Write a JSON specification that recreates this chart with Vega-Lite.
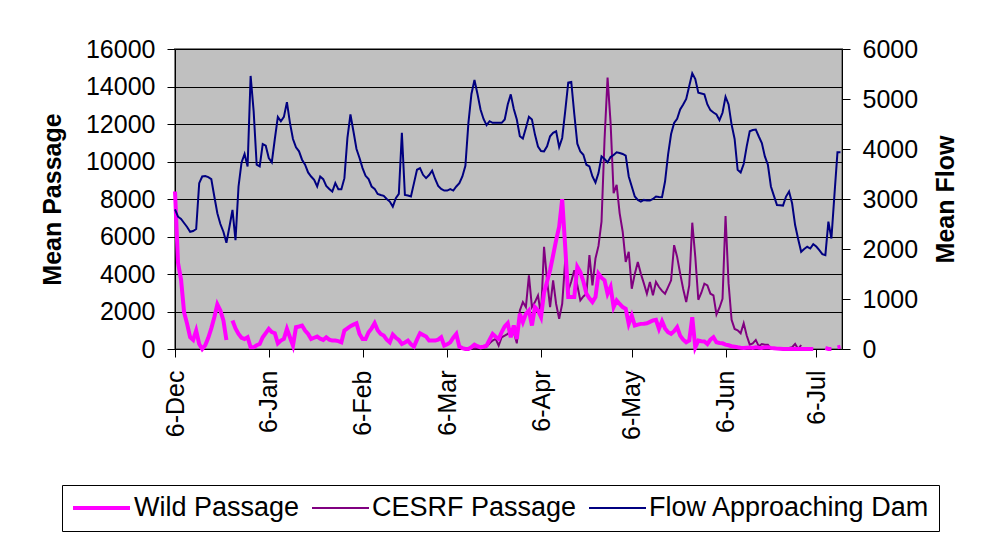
{
  "$schema": "https://vega.github.io/schema/vega-lite/v6.json",
  "width": 667,
  "height": 300,
  "autosize": {"type": "none"},
  "padding": {"left": 175, "top": 49, "right": 139, "bottom": 187},
  "background": "white",
  "config": {
    "font": "Liberation Sans",
    "view": {"fill": "#C0C0C0", "stroke": "#808080", "strokeWidth": 2},
    "axis": {
      "labelFont": "Liberation Sans", "labelFontSize": 25, "labelColor": "black",
      "titleFont": "Liberation Sans", "titleFontSize": 25, "titleFontWeight": "bold", "titleColor": "black",
      "domainColor": "black", "domainWidth": 1, "tickColor": "black", "tickSize": 8, "tickWidth": 1
    },
    "legend": {
      "orient": "none", "legendX": -113, "legendY": 436, "direction": "horizontal",
      "symbolType": "stroke", "symbolSize": 3249, "clipHeight": 28,
      "labelFont": "Liberation Sans", "labelFontSize": 27, "labelColor": "black", "labelLimit": 0,
      "labelOffset": 2, "columnPadding": 11, "padding": 9,
      "strokeColor": "black", "fillColor": "white", "cornerRadius": 0
    }
  },
  "datasets": {
    "flow": [
      {"d":"2004-12-06","v":2794},{"d":"2004-12-07","v":2646},{"d":"2004-12-08","v":2600},{"d":"2004-12-09","v":2520},{"d":"2004-12-10","v":2440},{"d":"2004-12-11","v":2345},{"d":"2004-12-12","v":2360},{"d":"2004-12-13","v":2400},{"d":"2004-12-14","v":3317},{"d":"2004-12-15","v":3450},{"d":"2004-12-16","v":3460},{"d":"2004-12-17","v":3437},{"d":"2004-12-18","v":3397},{"d":"2004-12-19","v":3050},{"d":"2004-12-20","v":2714},{"d":"2004-12-21","v":2500},{"d":"2004-12-22","v":2345},{"d":"2004-12-23","v":2124},{"d":"2004-12-24","v":2446},{"d":"2004-12-25","v":2781},{"d":"2004-12-26","v":2178},{"d":"2004-12-27","v":3250},{"d":"2004-12-28","v":3732},{"d":"2004-12-29","v":3899},{"d":"2004-12-30","v":3652},{"d":"2004-12-31","v":5461},
      {"d":"2005-01-01","v":4757},{"d":"2005-01-02","v":3685},{"d":"2005-01-03","v":3652},{"d":"2005-01-04","v":4100},{"d":"2005-01-05","v":4067},{"d":"2005-01-06","v":3819},{"d":"2005-01-07","v":3732},{"d":"2005-01-08","v":4200},{"d":"2005-01-09","v":4643},{"d":"2005-01-10","v":4556},{"d":"2005-01-11","v":4643},{"d":"2005-01-12","v":4938},{"d":"2005-01-13","v":4523},{"d":"2005-01-14","v":4200},{"d":"2005-01-15","v":4033},{"d":"2005-01-16","v":3953},{"d":"2005-01-17","v":3786},{"d":"2005-01-18","v":3685},{"d":"2005-01-19","v":3531},{"d":"2005-01-20","v":3450},{"d":"2005-01-21","v":3384},{"d":"2005-01-22","v":3250},{"d":"2005-01-23","v":3450},{"d":"2005-01-24","v":3397},{"d":"2005-01-25","v":3263},{"d":"2005-01-26","v":3200},{"d":"2005-01-27","v":3149},{"d":"2005-01-28","v":3317},{"d":"2005-01-29","v":3196},{"d":"2005-01-30","v":3196},{"d":"2005-01-31","v":3417},
      {"d":"2005-02-01","v":4221},{"d":"2005-02-02","v":4690},{"d":"2005-02-03","v":4350},{"d":"2005-02-04","v":4000},{"d":"2005-02-05","v":3819},{"d":"2005-02-06","v":3618},{"d":"2005-02-07","v":3464},{"d":"2005-02-08","v":3397},{"d":"2005-02-09","v":3250},{"d":"2005-02-10","v":3203},{"d":"2005-02-11","v":3102},{"d":"2005-02-12","v":3080},{"d":"2005-02-13","v":3062},{"d":"2005-02-14","v":3000},{"d":"2005-02-15","v":2948},{"d":"2005-02-16","v":2848},{"d":"2005-02-17","v":3015},{"d":"2005-02-18","v":3102},{"d":"2005-02-19","v":4322},{"d":"2005-02-20","v":3082},{"d":"2005-02-21","v":3070},{"d":"2005-02-22","v":3049},{"d":"2005-02-23","v":3317},{"d":"2005-02-24","v":3585},{"d":"2005-02-25","v":3618},{"d":"2005-02-26","v":3484},{"d":"2005-02-27","v":3417},{"d":"2005-02-28","v":3480},
      {"d":"2005-03-01","v":3565},{"d":"2005-03-02","v":3400},{"d":"2005-03-03","v":3263},{"d":"2005-03-04","v":3200},{"d":"2005-03-05","v":3169},{"d":"2005-03-06","v":3169},{"d":"2005-03-07","v":3196},{"d":"2005-03-08","v":3169},{"d":"2005-03-09","v":3250},{"d":"2005-03-10","v":3317},{"d":"2005-03-11","v":3450},{"d":"2005-03-12","v":3665},{"d":"2005-03-13","v":4523},{"d":"2005-03-14","v":5100},{"d":"2005-03-15","v":5380},{"d":"2005-03-16","v":5100},{"d":"2005-03-17","v":4790},{"d":"2005-03-18","v":4600},{"d":"2005-03-19","v":4476},{"d":"2005-03-20","v":4556},{"d":"2005-03-21","v":4523},{"d":"2005-03-22","v":4523},{"d":"2005-03-23","v":4523},{"d":"2005-03-24","v":4523},{"d":"2005-03-25","v":4590},{"d":"2005-03-26","v":4891},{"d":"2005-03-27","v":5092},{"d":"2005-03-28","v":4800},{"d":"2005-03-29","v":4590},{"d":"2005-03-30","v":4255},{"d":"2005-03-31","v":4208},
      {"d":"2005-04-01","v":4422},{"d":"2005-04-02","v":4643},{"d":"2005-04-03","v":4590},{"d":"2005-04-04","v":4288},{"d":"2005-04-05","v":4050},{"d":"2005-04-06","v":3960},{"d":"2005-04-07","v":3953},{"d":"2005-04-08","v":4053},{"d":"2005-04-09","v":4255},{"d":"2005-04-10","v":4322},{"d":"2005-04-11","v":4355},{"d":"2005-04-12","v":4040},{"d":"2005-04-13","v":4221},{"d":"2005-04-14","v":4757},{"d":"2005-04-15","v":5327},{"d":"2005-04-16","v":5340},{"d":"2005-04-17","v":4700},{"d":"2005-04-18","v":4107},{"d":"2005-04-19","v":3950},{"d":"2005-04-20","v":3886},{"d":"2005-04-21","v":3685},{"d":"2005-04-22","v":3652},{"d":"2005-04-23","v":3450},{"d":"2005-04-24","v":3330},{"d":"2005-04-25","v":3518},{"d":"2005-04-26","v":3853},{"d":"2005-04-27","v":3800},{"d":"2005-04-28","v":3732},{"d":"2005-04-29","v":3839},{"d":"2005-04-30","v":3880},
      {"d":"2005-05-01","v":3933},{"d":"2005-05-02","v":3920},{"d":"2005-05-03","v":3900},{"d":"2005-05-04","v":3866},{"d":"2005-05-05","v":3450},{"d":"2005-05-06","v":3250},{"d":"2005-05-07","v":3050},{"d":"2005-05-08","v":2982},{"d":"2005-05-09","v":2948},{"d":"2005-05-10","v":2982},{"d":"2005-05-11","v":2970},{"d":"2005-05-12","v":2968},{"d":"2005-05-13","v":3000},{"d":"2005-05-14","v":3049},{"d":"2005-05-15","v":3040},{"d":"2005-05-16","v":3035},{"d":"2005-05-17","v":3350},{"d":"2005-05-18","v":3886},{"d":"2005-05-19","v":4300},{"d":"2005-05-20","v":4520},{"d":"2005-05-21","v":4603},{"d":"2005-05-22","v":4791},{"d":"2005-05-23","v":4891},{"d":"2005-05-24","v":5000},{"d":"2005-05-25","v":5260},{"d":"2005-05-26","v":5514},{"d":"2005-05-27","v":5400},{"d":"2005-05-28","v":5126},{"d":"2005-05-29","v":5110},{"d":"2005-05-30","v":5092},{"d":"2005-05-31","v":4891},
      {"d":"2005-06-01","v":4777},{"d":"2005-06-02","v":4730},{"d":"2005-06-03","v":4690},{"d":"2005-06-04","v":4576},{"d":"2005-06-05","v":4724},{"d":"2005-06-06","v":5045},{"d":"2005-06-07","v":4891},{"d":"2005-06-08","v":4489},{"d":"2005-06-09","v":4200},{"d":"2005-06-10","v":3585},{"d":"2005-06-11","v":3531},{"d":"2005-06-12","v":3700},{"d":"2005-06-13","v":4053},{"d":"2005-06-14","v":4355},{"d":"2005-06-15","v":4380},{"d":"2005-06-16","v":4389},{"d":"2005-06-17","v":4250},{"d":"2005-06-18","v":4120},{"d":"2005-06-19","v":3853},{"d":"2005-06-20","v":3685},{"d":"2005-06-21","v":3250},{"d":"2005-06-22","v":3062},{"d":"2005-06-23","v":2881},{"d":"2005-06-24","v":2875},{"d":"2005-06-25","v":2868},{"d":"2005-06-26","v":3049},{"d":"2005-06-27","v":3149},{"d":"2005-06-28","v":2915},{"d":"2005-06-29","v":2479},{"d":"2005-06-30","v":2200},
      {"d":"2005-07-01","v":1943},{"d":"2005-07-02","v":2000},{"d":"2005-07-03","v":2044},{"d":"2005-07-04","v":2010},{"d":"2005-07-05","v":2097},{"d":"2005-07-06","v":2050},{"d":"2005-07-07","v":1977},{"d":"2005-07-08","v":1896},{"d":"2005-07-09","v":1876},{"d":"2005-07-10","v":2546},{"d":"2005-07-11","v":2211},{"d":"2005-07-12","v":3082},{"d":"2005-07-13","v":3933},{"d":"2005-07-14","v":3933}
    ],
    "wild": [
      {"d":"2004-12-06","v":8400},{"d":"2004-12-07","v":4600},{"d":"2004-12-08","v":3700},{"d":"2004-12-09","v":1966},{"d":"2004-12-10","v":1340},{"d":"2004-12-11","v":625},{"d":"2004-12-12","v":483},{"d":"2004-12-13","v":983},{"d":"2004-12-14","v":268},{"d":"2004-12-15","v":0},{"d":"2004-12-16","v":200},{"d":"2004-12-17","v":600},{"d":"2004-12-18","v":1100},{"d":"2004-12-19","v":1698},{"d":"2004-12-20","v":2377},{"d":"2004-12-21","v":2055},{"d":"2004-12-22","v":1519},{"d":"2004-12-23","v":483},{"d":"2004-12-24","v":null},{"d":"2004-12-25","v":1519},{"d":"2004-12-26","v":1100},{"d":"2004-12-27","v":804},{"d":"2004-12-28","v":600},{"d":"2004-12-29","v":536},{"d":"2004-12-30","v":625},{"d":"2004-12-31","v":89},
      {"d":"2005-01-01","v":89},{"d":"2005-01-02","v":200},{"d":"2005-01-03","v":268},{"d":"2005-01-04","v":625},{"d":"2005-01-05","v":850},{"d":"2005-01-06","v":1072},{"d":"2005-01-07","v":900},{"d":"2005-01-08","v":840},{"d":"2005-01-09","v":304},{"d":"2005-01-10","v":450},{"d":"2005-01-11","v":536},{"d":"2005-01-12","v":1072},{"d":"2005-01-13","v":625},{"d":"2005-01-14","v":179},{"d":"2005-01-15","v":1162},{"d":"2005-01-16","v":1200},{"d":"2005-01-17","v":1251},{"d":"2005-01-18","v":983},{"d":"2005-01-19","v":804},{"d":"2005-01-20","v":536},{"d":"2005-01-21","v":600},{"d":"2005-01-22","v":661},{"d":"2005-01-23","v":550},{"d":"2005-01-24","v":483},{"d":"2005-01-25","v":625},{"d":"2005-01-26","v":500},{"d":"2005-01-27","v":447},{"d":"2005-01-28","v":447},{"d":"2005-01-29","v":420},{"d":"2005-01-30","v":357},{"d":"2005-01-31","v":983},
      {"d":"2005-02-01","v":1100},{"d":"2005-02-02","v":1215},{"d":"2005-02-03","v":1300},{"d":"2005-02-04","v":1376},{"d":"2005-02-05","v":804},{"d":"2005-02-06","v":536},{"d":"2005-02-07","v":536},{"d":"2005-02-08","v":893},{"d":"2005-02-09","v":1100},{"d":"2005-02-10","v":1376},{"d":"2005-02-11","v":1000},{"d":"2005-02-12","v":804},{"d":"2005-02-13","v":715},{"d":"2005-02-14","v":500},{"d":"2005-02-15","v":357},{"d":"2005-02-16","v":768},{"d":"2005-02-17","v":600},{"d":"2005-02-18","v":483},{"d":"2005-02-19","v":268},{"d":"2005-02-20","v":350},{"d":"2005-02-21","v":447},{"d":"2005-02-22","v":250},{"d":"2005-02-23","v":125},{"d":"2005-02-24","v":500},{"d":"2005-02-25","v":840},{"d":"2005-02-26","v":750},{"d":"2005-02-27","v":661},{"d":"2005-02-28","v":447},
      {"d":"2005-03-01","v":447},{"d":"2005-03-02","v":447},{"d":"2005-03-03","v":500},{"d":"2005-03-04","v":625},{"d":"2005-03-05","v":179},{"d":"2005-03-06","v":250},{"d":"2005-03-07","v":357},{"d":"2005-03-08","v":600},{"d":"2005-03-09","v":804},{"d":"2005-03-10","v":125},{"d":"2005-03-11","v":50},{"d":"2005-03-12","v":0},{"d":"2005-03-13","v":0},{"d":"2005-03-14","v":100},{"d":"2005-03-15","v":232},{"d":"2005-03-16","v":150},{"d":"2005-03-17","v":89},{"d":"2005-03-18","v":120},{"d":"2005-03-19","v":179},{"d":"2005-03-20","v":500},{"d":"2005-03-21","v":804},{"d":"2005-03-22","v":650},{"d":"2005-03-23","v":536},{"d":"2005-03-24","v":900},{"d":"2005-03-25","v":1200},{"d":"2005-03-26","v":1376},{"d":"2005-03-27","v":625},{"d":"2005-03-28","v":1251},{"d":"2005-03-29","v":536},{"d":"2005-03-30","v":1876},{"d":"2005-03-31","v":1430},
      {"d":"2005-04-01","v":1876},{"d":"2005-04-02","v":2055},{"d":"2005-04-03","v":1251},{"d":"2005-04-04","v":2234},{"d":"2005-04-05","v":2055},{"d":"2005-04-06","v":1698},{"d":"2005-04-07","v":3000},{"d":"2005-04-08","v":3600},{"d":"2005-04-09","v":4200},{"d":"2005-04-10","v":5000},{"d":"2005-04-11","v":5808},{"d":"2005-04-12","v":6523},{"d":"2005-04-13","v":7988},{"d":"2005-04-14","v":5450},{"d":"2005-04-15","v":2770},{"d":"2005-04-16","v":2770},{"d":"2005-04-17","v":2770},{"d":"2005-04-18","v":4378},{"d":"2005-04-19","v":4100},{"d":"2005-04-20","v":3600},{"d":"2005-04-21","v":2949},{"d":"2005-04-22","v":2700},{"d":"2005-04-23","v":2502},{"d":"2005-04-24","v":2770},{"d":"2005-04-25","v":4021},{"d":"2005-04-26","v":3800},{"d":"2005-04-27","v":3663},{"d":"2005-04-28","v":2949},{"d":"2005-04-29","v":3306},{"d":"2005-04-30","v":2234},
      {"d":"2005-05-01","v":2591},{"d":"2005-05-02","v":2400},{"d":"2005-05-03","v":2234},{"d":"2005-05-04","v":2144},{"d":"2005-05-05","v":1340},{"d":"2005-05-06","v":1787},{"d":"2005-05-07","v":1251},{"d":"2005-05-08","v":1300},{"d":"2005-05-09","v":1340},{"d":"2005-05-10","v":1350},{"d":"2005-05-11","v":1376},{"d":"2005-05-12","v":1450},{"d":"2005-05-13","v":1519},{"d":"2005-05-14","v":1555},{"d":"2005-05-15","v":1072},{"d":"2005-05-16","v":1483},{"d":"2005-05-17","v":1100},{"d":"2005-05-18","v":893},{"d":"2005-05-19","v":804},{"d":"2005-05-20","v":950},{"d":"2005-05-21","v":1162},{"d":"2005-05-22","v":715},{"d":"2005-05-23","v":500},{"d":"2005-05-24","v":357},{"d":"2005-05-25","v":447},{"d":"2005-05-26","v":1698},{"d":"2005-05-27","v":89},{"d":"2005-05-28","v":447},{"d":"2005-05-29","v":411},{"d":"2005-05-30","v":400},{"d":"2005-05-31","v":268},
      {"d":"2005-06-01","v":500},{"d":"2005-06-02","v":625},{"d":"2005-06-03","v":357},{"d":"2005-06-04","v":320},{"d":"2005-06-05","v":304},{"d":"2005-06-06","v":232},{"d":"2005-06-07","v":200},{"d":"2005-06-08","v":150},{"d":"2005-06-09","v":125},{"d":"2005-06-10","v":90},{"d":"2005-06-11","v":70},{"d":"2005-06-12","v":54},{"d":"2005-06-13","v":70},{"d":"2005-06-14","v":80},{"d":"2005-06-15","v":60},{"d":"2005-06-16","v":89},{"d":"2005-06-17","v":70},{"d":"2005-06-18","v":60},{"d":"2005-06-19","v":80},{"d":"2005-06-20","v":89},{"d":"2005-06-21","v":60},{"d":"2005-06-22","v":40},{"d":"2005-06-23","v":20},{"d":"2005-06-24","v":10},{"d":"2005-06-25","v":0},{"d":"2005-06-26","v":0},{"d":"2005-06-27","v":0},{"d":"2005-06-28","v":0},{"d":"2005-06-29","v":0},{"d":"2005-06-30","v":0},
      {"d":"2005-07-01","v":0},{"d":"2005-07-02","v":0},{"d":"2005-07-03","v":0},{"d":"2005-07-04","v":0},{"d":"2005-07-05","v":0},{"d":"2005-07-06","v":null},{"d":"2005-07-07","v":null},{"d":"2005-07-08","v":null},{"d":"2005-07-09","v":54},{"d":"2005-07-10","v":0},{"d":"2005-07-11","v":0},{"d":"2005-07-12","v":null},{"d":"2005-07-13","v":89},{"d":"2005-07-14","v":125}
    ],
    "cesrf": [
      {"d":"2005-03-12","v":0},{"d":"2005-03-13","v":0},{"d":"2005-03-14","v":20},{"d":"2005-03-15","v":30},{"d":"2005-03-16","v":40},{"d":"2005-03-17","v":50},{"d":"2005-03-18","v":60},{"d":"2005-03-19","v":125},{"d":"2005-03-20","v":300},{"d":"2005-03-21","v":450},{"d":"2005-03-22","v":536},{"d":"2005-03-23","v":179},{"d":"2005-03-24","v":625},{"d":"2005-03-25","v":715},{"d":"2005-03-26","v":800},{"d":"2005-03-27","v":983},{"d":"2005-03-28","v":893},{"d":"2005-03-29","v":304},{"d":"2005-03-30","v":2055},{"d":"2005-03-31","v":2502},
      {"d":"2005-04-01","v":2234},{"d":"2005-04-02","v":3931},{"d":"2005-04-03","v":2234},{"d":"2005-04-04","v":2500},{"d":"2005-04-05","v":2859},{"d":"2005-04-06","v":1800},{"d":"2005-04-07","v":5450},{"d":"2005-04-08","v":3663},{"d":"2005-04-09","v":2234},{"d":"2005-04-10","v":3663},{"d":"2005-04-11","v":2400},{"d":"2005-04-12","v":1608},{"d":"2005-04-13","v":2412},{"d":"2005-04-14","v":4736},{"d":"2005-04-15","v":3127},{"d":"2005-04-16","v":3600},{"d":"2005-04-17","v":4200},{"d":"2005-04-18","v":3400},{"d":"2005-04-19","v":2591},{"d":"2005-04-20","v":2800},{"d":"2005-04-21","v":2949},{"d":"2005-04-22","v":5004},{"d":"2005-04-23","v":3395},{"d":"2005-04-24","v":4825},{"d":"2005-04-25","v":5500},{"d":"2005-04-26","v":6791},{"d":"2005-04-27","v":11169},{"d":"2005-04-28","v":14475},{"d":"2005-04-29","v":12062},{"d":"2005-04-30","v":8310},
      {"d":"2005-05-01","v":8757},{"d":"2005-05-02","v":7237},{"d":"2005-05-03","v":6255},{"d":"2005-05-04","v":4646},{"d":"2005-05-05","v":5182},{"d":"2005-05-06","v":3217},{"d":"2005-05-07","v":4000},{"d":"2005-05-08","v":4646},{"d":"2005-05-09","v":4021},{"d":"2005-05-10","v":3500},{"d":"2005-05-11","v":2949},{"d":"2005-05-12","v":3574},{"d":"2005-05-13","v":2859},{"d":"2005-05-14","v":3574},{"d":"2005-05-15","v":3306},{"d":"2005-05-16","v":3100},{"d":"2005-05-17","v":2949},{"d":"2005-05-18","v":3300},{"d":"2005-05-19","v":3663},{"d":"2005-05-20","v":5540},{"d":"2005-05-21","v":4914},{"d":"2005-05-22","v":4021},{"d":"2005-05-23","v":3200},{"d":"2005-05-24","v":2502},{"d":"2005-05-25","v":3395},{"d":"2005-05-26","v":6737},{"d":"2005-05-27","v":4914},{"d":"2005-05-28","v":2627},{"d":"2005-05-29","v":3000},{"d":"2005-05-30","v":3485},{"d":"2005-05-31","v":3395},
      {"d":"2005-06-01","v":2949},{"d":"2005-06-02","v":2859},{"d":"2005-06-03","v":1841},{"d":"2005-06-04","v":2200},{"d":"2005-06-05","v":2681},{"d":"2005-06-06","v":7094},{"d":"2005-06-07","v":3500},{"d":"2005-06-08","v":1555},{"d":"2005-06-09","v":1072},{"d":"2005-06-10","v":1000},{"d":"2005-06-11","v":840},{"d":"2005-06-12","v":1376},{"d":"2005-06-13","v":715},{"d":"2005-06-14","v":232},{"d":"2005-06-15","v":300},{"d":"2005-06-16","v":483},{"d":"2005-06-17","v":143},{"d":"2005-06-18","v":268},{"d":"2005-06-19","v":232},{"d":"2005-06-20","v":232},{"d":"2005-06-21","v":0},{"d":"2005-06-22","v":0},{"d":"2005-06-23","v":0},{"d":"2005-06-24","v":50},{"d":"2005-06-25","v":30},{"d":"2005-06-26","v":20},{"d":"2005-06-27","v":54},{"d":"2005-06-28","v":100},{"d":"2005-06-29","v":268},{"d":"2005-06-30","v":0},{"d":"2005-07-01","v":214}
    ]
  },
  "layer": [
    {
      "encoding": {
        "x": {
          "field": "d", "type": "temporal",
          "scale": {"type": "utc", "domain": [{"year": 2004, "month": 12, "date": 6, "utc": true}, {"year": 2005, "month": 7, "date": 14, "hours": 12, "utc": true}]},
          "axis": {
            "title": null, "grid": false, "format": "%-d-%b", "labelAngle": 270, "labelAlign": "right", "labelBaseline": "middle",
            "labelPadding": 13, "labelOverlap": false, "labelFlush": false,
            "values": [
              {"year": 2004, "month": 12, "date": 6, "utc": true},
              {"year": 2005, "month": 1, "date": 6, "utc": true},
              {"year": 2005, "month": 2, "date": 6, "utc": true},
              {"year": 2005, "month": 3, "date": 6, "utc": true},
              {"year": 2005, "month": 4, "date": 6, "utc": true},
              {"year": 2005, "month": 5, "date": 6, "utc": true},
              {"year": 2005, "month": 6, "date": 6, "utc": true},
              {"year": 2005, "month": 7, "date": 6, "utc": true}
            ]
          }
        },
        "y": {
          "field": "v", "type": "quantitative",
          "scale": {"domain": [0, 16000], "nice": false, "zero": true},
          "axis": {
            "title": "Mean Passage", "values": [0, 2000, 4000, 6000, 8000, 10000, 12000, 14000, 16000], "format": "d",
            "grid": true, "gridColor": "black", "gridWidth": 1, "gridOpacity": 1, "labelPadding": 12, "titlePadding": 20
          }
        }
      },
      "layer": [
        {
          "data": {"name": "cesrf"},
          "mark": {"type": "line", "invalid": "break-paths-show-domains"},
          "encoding": {
            "color": {"datum": "CESRF Passage", "type": "nominal", "scale": {"domain": ["Wild Passage", "CESRF Passage", "Flow Approaching Dam"], "range": ["#FF00FF", "#800080", "#000080"]}, "legend": {"title": null}},
            "strokeWidth": {"datum": "CESRF Passage", "type": "nominal", "scale": {"type": "ordinal", "domain": ["Wild Passage", "CESRF Passage", "Flow Approaching Dam"], "range": [4, 2, 2]}, "legend": {"title": null}}
          }
        },
        {
          "data": {"name": "wild"},
          "mark": {"type": "line", "invalid": "break-paths-show-domains"},
          "encoding": {
            "color": {"datum": "Wild Passage", "type": "nominal", "scale": {"domain": ["Wild Passage", "CESRF Passage", "Flow Approaching Dam"], "range": ["#FF00FF", "#800080", "#000080"]}, "legend": {"title": null}},
            "strokeWidth": {"datum": "Wild Passage", "type": "nominal", "scale": {"type": "ordinal", "domain": ["Wild Passage", "CESRF Passage", "Flow Approaching Dam"], "range": [4, 2, 2]}, "legend": {"title": null}}
          }
        }
      ]
    },
    {
      "data": {"name": "flow"},
      "mark": {"type": "line"},
      "encoding": {
        "x": {"field": "d", "type": "temporal"},
        "y": {
          "field": "v", "type": "quantitative",
          "scale": {"domain": [0, 6000], "nice": false},
          "axis": {
            "orient": "right", "title": "Mean Flow", "values": [0, 1000, 2000, 3000, 4000, 5000, 6000], "format": "d",
            "grid": false, "labelPadding": 12, "titlePadding": 16, "titleAngle": 270, "titleBaseline": "top"
          }
        },
        "color": {"datum": "Flow Approaching Dam", "type": "nominal", "scale": {"domain": ["Wild Passage", "CESRF Passage", "Flow Approaching Dam"], "range": ["#FF00FF", "#800080", "#000080"]}, "legend": {"title": null}},
        "strokeWidth": {"datum": "Flow Approaching Dam", "type": "nominal", "scale": {"type": "ordinal", "domain": ["Wild Passage", "CESRF Passage", "Flow Approaching Dam"], "range": [4, 2, 2]}, "legend": {"title": null}}
      }
    }
  ],
  "resolve": {"scale": {"y": "independent"}}
}
